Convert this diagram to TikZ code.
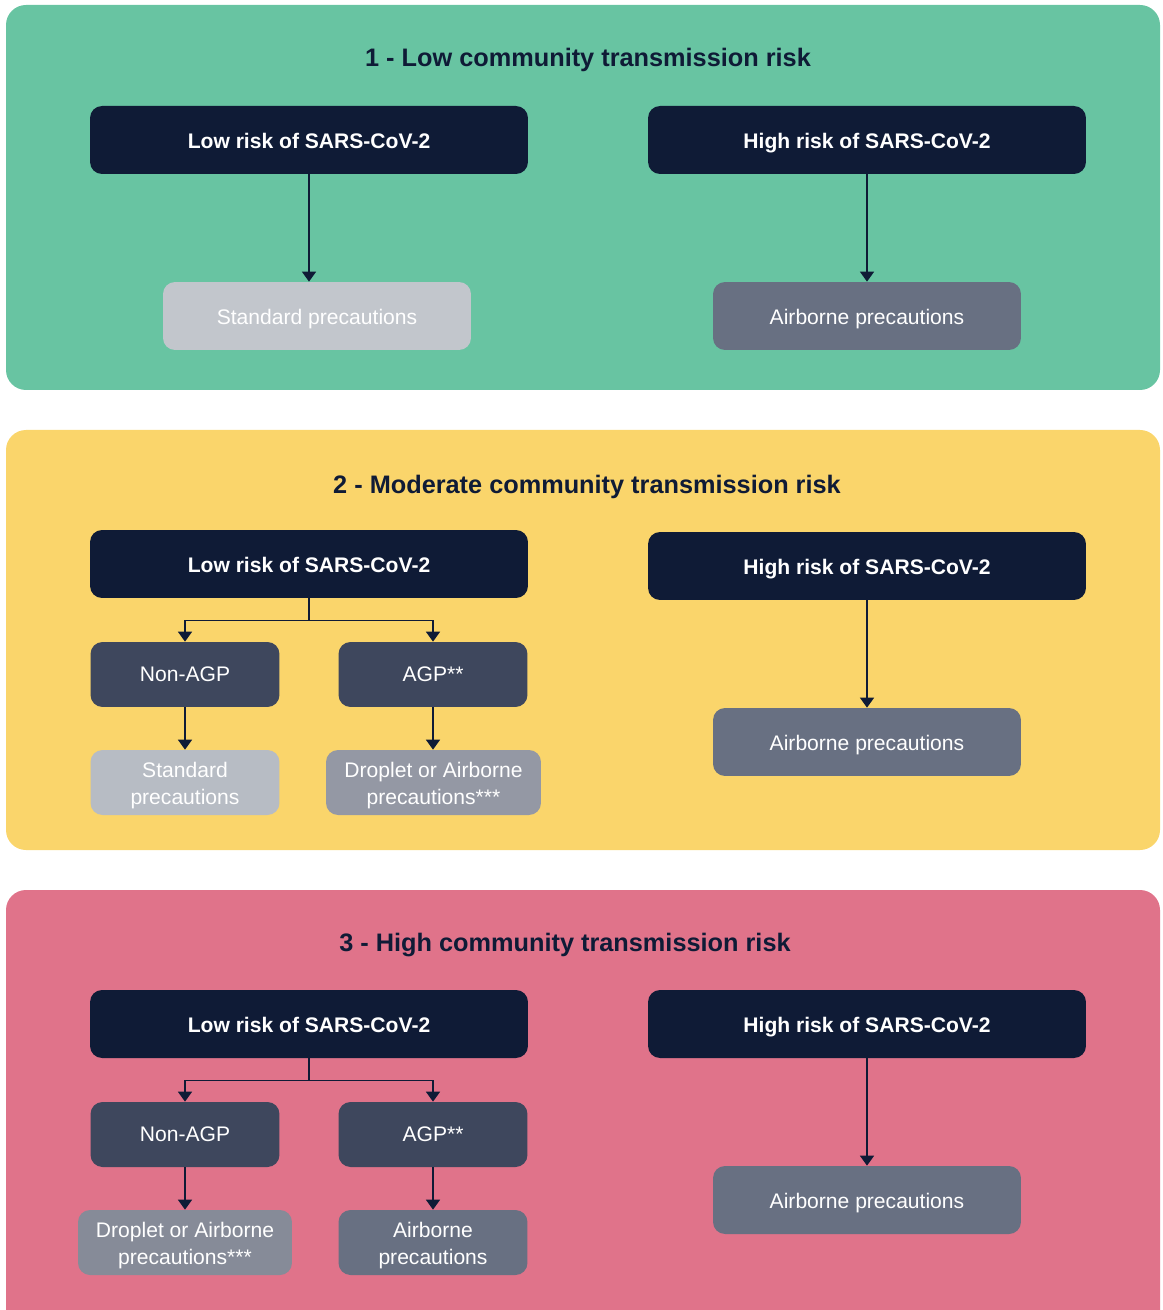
\documentclass[tikz,border=0pt]{standalone}
\usepackage{fontspec}
\setmainfont{Liberation Sans}
\usetikzlibrary{arrows.meta}
\definecolor{navy}{HTML}{0F1B36}
\definecolor{lowgreen}{HTML}{68C4A2}
\definecolor{modyellow}{HTML}{FAD56B}
\definecolor{highpink}{HTML}{E0738A}
\definecolor{slate}{HTML}{3E475D}
\definecolor{airgrey}{HTML}{687082}
\definecolor{stdgrey}{HTML}{C2C6CC}
\definecolor{stdgreytwo}{HTML}{B7BCC4}
\definecolor{dropgrey}{HTML}{9498A4}
\definecolor{dropgreytwo}{HTML}{868B98}
\newcommand{\firstline}{\rule{0pt}{12.2pt}}
\tikzset{flow/.style = {draw=navy, line width=0.85pt, -{Triangle[width=2.8mm,length=2mm]}}}

\begin{document}
\begin{tikzpicture}[x=0.02cm, y=-0.02cm,
    panel/.style={rounded corners=0.4cm},
    heading/.style={text=navy, font={\fontsize{14.4}{17}\selectfont\bfseries}},
    riskbox/.style={fill=navy, text=white, rounded corners=0.24cm,
        minimum width=8.76cm, minimum height=1.36cm,
        text height=10.6pt, text depth=1pt,
        font={\fontsize{12}{14}\selectfont\bfseries}},
    carebox/.style={text=white, rounded corners=0.24cm,
        minimum width=6.16cm, minimum height=1.36cm,
        text height=11.2pt, text depth=1pt,
        font={\fontsize{12}{14}\selectfont}},
    smallbox/.style={text=white, rounded corners=0.24cm, align=center,
        minimum width=3.78cm, minimum height=1.3cm, inner sep=1pt,
        font={\fontsize{12}{15.4}\selectfont}},
    ]
    \useasboundingbox (0,0) rectangle (1162,1310);
    \clip (0,0) rectangle (1162,1310);

    % Panels
    \fill[panel,lowgreen] (6,5) rectangle (1160,390);
    \fill[panel,modyellow] (6,430) rectangle (1160,850);
    \fill[panel,highpink] (6,890) rectangle (1160,1340);

    % Panel 1
    \node[heading] (title1) at (588,60) {1 - Low community transmission risk};
    \node[riskbox] (low1) at (309,140) {Low risk of SARS-CoV-2};
    \node[riskbox] (high1) at (867,140) {High risk of SARS-CoV-2};
    \node[carebox,fill=stdgrey] (std1) at (317,316) {Standard precautions};
    \node[carebox,fill=airgrey] (air1) at (867,316) {Airborne precautions};
    \draw[flow] (low1.south) -- (low1.south |- std1.north);
    \draw[flow] (high1) -- (air1);

    % Panel 2
    \node[heading] (title2) at (587,487) {2 - Moderate community transmission risk};
    \node[riskbox] (low2) at (309,564) {Low risk of SARS-CoV-2};
    \node[riskbox] (high2) at (867,566) {High risk of SARS-CoV-2};
    \node[smallbox,fill=slate] (nagp2) at (185,674.5) {Non-AGP};
    \node[smallbox,fill=slate] (agp2) at (433,674.5) {AGP**};
    \node[smallbox,fill=stdgreytwo] (std2) at (185,782.5) {\firstline Standard\\precautions};
    \node[smallbox,fill=dropgrey,minimum width=4.3cm] (drop2) at (433.5,782.5) {\firstline Droplet or Airborne\\precautions***};
    \node[carebox,fill=airgrey] (air2) at (867,742) {Airborne precautions};
    \draw[flow] (low2.south) -- ++(0,22) -| (nagp2);
    \draw[flow] (low2.south) -- ++(0,22) -| (agp2);
    \draw[flow] (nagp2) -- (std2);
    \draw[flow] (agp2.south) -- (agp2.south |- drop2.north);
    \draw[flow] (high2) -- (air2);

    % Panel 3
    \node[heading] (title3) at (565,945) {3 - High community transmission risk};
    \node[riskbox] (low3) at (309,1024) {Low risk of SARS-CoV-2};
    \node[riskbox] (high3) at (867,1024) {High risk of SARS-CoV-2};
    \node[smallbox,fill=slate] (nagp3) at (185,1134.5) {Non-AGP};
    \node[smallbox,fill=slate] (agp3) at (433,1134.5) {AGP**};
    \node[smallbox,fill=dropgreytwo,minimum width=4.28cm] (drop3) at (185,1242.5) {\firstline Droplet or Airborne\\precautions***};
    \node[smallbox,fill=airgrey] (air3) at (433,1242.5) {\firstline Airborne\\precautions};
    \node[carebox,fill=airgrey] (airhigh3) at (867,1200) {Airborne precautions};
    \draw[flow] (low3.south) -- ++(0,22) -| (nagp3);
    \draw[flow] (low3.south) -- ++(0,22) -| (agp3);
    \draw[flow] (nagp3) -- (drop3);
    \draw[flow] (agp3) -- (air3);
    \draw[flow] (high3) -- (airhigh3);

\end{tikzpicture}
\end{document}
